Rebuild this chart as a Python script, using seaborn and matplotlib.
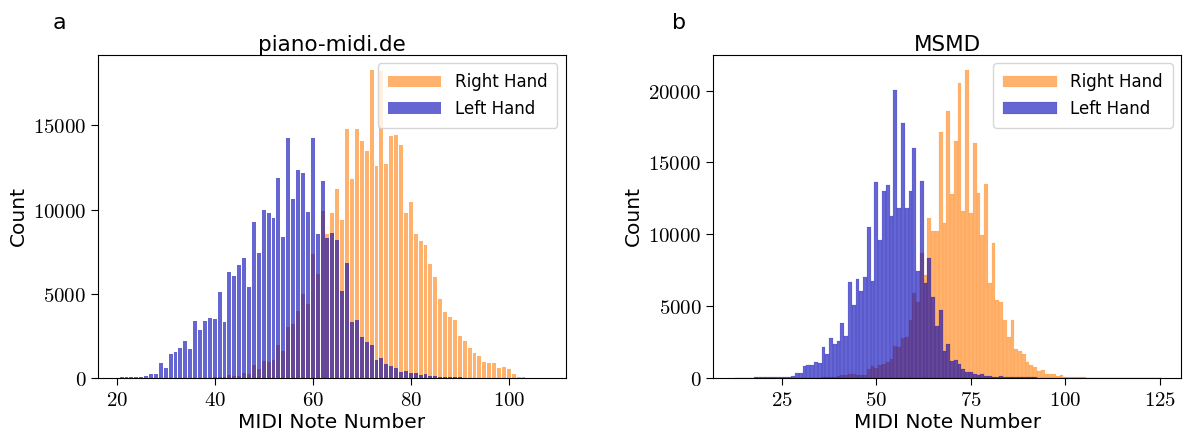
import numpy as np
import matplotlib
matplotlib.use("Agg")
import matplotlib.pyplot as plt
import seaborn as sns
from matplotlib.ticker import FuncFormatter

# panel a: piano-midi.de, counts per MIDI note (21..106)
pm_notes = list(range(21, 107))
pm_left = [30, 30, 30, 30, 60, 120, 240, 240, 890, 590,
           1420, 1540, 1780, 2190, 1720, 3380, 2850, 3380, 3560, 3500,
           5100, 3320, 6280, 6050, 6700, 7110, 5390, 9250, 7410, 9960,
           9780, 9490, 11860, 8360, 14230, 10610, 12330, 12150, 9840, 14230,
           8540, 11680, 8280, 8600, 8180, 5160, 6820, 3320, 3440, 2430,
           2130, 1960, 1070, 1190, 830, 710, 590, 360, 415, 300,
           300, 180, 240, 120, 100, 80, 60, 50, 40, 30,
           20, 20, 20, 20, 20, 20, 20, 20, 20, 20,
           10, 10, 10, 10, 10, 10]
pm_right = [0, 0, 0, 0, 0, 0, 0, 0, 0, 0,
            0, 10, 10, 10, 10, 10, 20, 20, 20, 30,
            50, 50, 180, 120, 120, 300, 240, 770, 530, 1010,
            950, 1070, 1960, 1600, 3020, 3200, 3970, 4980, 4390, 7350,
            6170, 9900, 8540, 9780, 11200, 9370, 14760, 11800, 14760, 14050,
            13460, 18260, 12570, 18200, 12690, 14350, 14400, 13810, 9780, 10430,
            8540, 8120, 7880, 6760, 5990, 4680, 3910, 3620, 3440, 2490,
            2190, 1780, 1480, 1300, 950, 890, 890, 590, 650, 530,
            240, 60, 60, 20, 20, 20]

# panel b: MSMD, counts per MIDI note (13..125)
ms_notes = list(range(13, 126))
ms_left = [30, 30, 30, 30, 30, 40, 40, 40, 40, 40,
           40, 40, 40, 50, 70, 115, 350, 350, 810, 900,
           900, 1090, 1040, 2130, 1680, 2750, 2360, 2540, 3810, 2930,
           6650, 5060, 6860, 6030, 7000, 10530, 6720, 13650, 9630, 13030,
           13440, 11300, 20030, 11850, 17740, 11850, 13030, 16010, 7480, 13720,
           6580, 8320, 5610, 3600, 4710, 1870, 2360, 1180, 1250, 970,
           620, 415, 415, 280, 200, 280, 140, 140, 70, 70,
           140, 50, 40, 40, 40, 40, 40, 40, 40, 40,
           30, 30, 30, 30, 30, 30, 30, 30, 30, 30,
           30, 30, 30, 30, 30, 30, 30, 30, 30, 30,
           30, 30, 30, 30, 30, 30, 30, 30, 30, 30,
           30, 30, 20]
ms_right = [10, 10, 10, 10, 10, 10, 10, 10, 10, 10,
            10, 10, 10, 10, 10, 20, 20, 20, 20, 20,
            20, 20, 20, 40, 60, 90, 90, 120, 200, 200,
            280, 280, 200, 200, 200, 620, 830, 690, 900, 970,
            1110, 1320, 2220, 2150, 2770, 2840, 4020, 5890, 5270, 8730,
            7140, 11160, 10260, 10260, 17120, 10810, 18570, 12820, 16490, 20510,
            11640, 21410, 11500, 16350, 12890, 9980, 13510, 6580, 9420, 5400,
            5270, 4020, 2840, 4020, 2010, 1870, 1660, 1110, 900, 760,
            485, 550, 280, 280, 280, 140, 200, 100, 80, 60,
            50, 40, 40, 30, 20, 20, 20, 20, 20, 20,
            20, 20, 20, 20, 20, 20, 20, 20, 20, 20,
            20, 20, 20]

right_color = "#ff7f0e"
left_color = "#0000b4"

sns.set_style("ticks")
plt.rcParams["font.family"] = ["DejaVu Sans"]
plt.rcParams["mathtext.fontset"] = "cm"
for key in ["text.color", "axes.labelcolor", "xtick.color", "ytick.color", "axes.edgecolor"]:
    plt.rcParams[key] = "black"

fig, axes = plt.subplots(1, 2, figsize=(11.87, 4.4), dpi=100)
fig.subplots_adjust(left=0.0826, right=0.995, bottom=0.141, top=0.875, wspace=0.316)

ax = axes[0]
sns.histplot(x=pm_notes, weights=pm_right, discrete=True, shrink=0.8, color=right_color,
             alpha=0.6, linewidth=0, label="Right Hand", ax=ax)
sns.histplot(x=pm_notes, weights=pm_left, discrete=True, shrink=0.8, color=left_color,
             alpha=0.6, linewidth=0, label="Left Hand", ax=ax)
ax.set_xlim(16.2, 111.6)
ax.set_title("piano-midi.de", fontsize=15.5, pad=3)

ax = axes[1]
sns.histplot(x=ms_notes, weights=ms_right, discrete=True, color=right_color,
             alpha=0.6, edgecolor=right_color, linewidth=0.08, label="Right Hand", ax=ax)
sns.histplot(x=ms_notes, weights=ms_left, discrete=True, color=left_color,
             alpha=0.6, edgecolor=left_color, linewidth=0.08, label="Left Hand", ax=ax)
ax.set_xlim(6.9, 130.6)
ax.set_xticks([25, 50, 75, 100, 125])
ax.set_title("MSMD", fontsize=15.5, pad=3)

fmt = FuncFormatter(lambda v, p: "$%d$" % v)
for ax in axes:
    ax.set_xlabel("MIDI Note Number", fontsize=14.5, labelpad=2)
    ax.set_ylabel("Count", fontsize=14.5, labelpad=4)
    ax.xaxis.set_major_formatter(fmt)
    ax.yaxis.set_major_formatter(fmt)
    ax.tick_params(labelsize=15, length=5)
    ax.legend(loc="upper right", fontsize=12, handlelength=3.2, borderpad=0.6)

fig.text(0.044, 0.935, "a", fontsize=16)
fig.text(0.566, 0.935, "b", fontsize=16)

fig.savefig("out.png", dpi=100)
